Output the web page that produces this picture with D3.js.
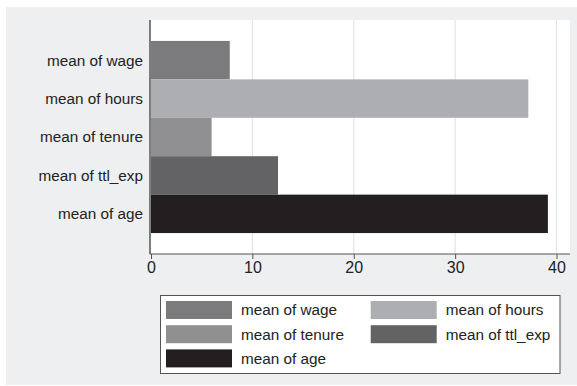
<!DOCTYPE html>
<html>
<head>
<meta charset="utf-8">
<script src="https://cdn.jsdelivr.net/npm/d3@7"></script>
<style>
  body { margin: 0; background: #fff; }
</style>
</head>
<body>
<div id="chart"></div>
<script>

			var width = 577;
			var height = 386;

			// data (nlsw88 means)
			var categories = ['mean of wage', 'mean of hours', 'mean of tenure', 'mean of ttl_exp', 'mean of age'];
			var values = [7.77, 37.22, 5.98, 12.53, 39.15];
			var barColors = ['#7b7b7e', '#adaeb1', '#909093', '#636365', '#231f20'];
			var xTicks = [0, 10, 20, 30, 40];

			var plotLeft = 150;
			var plotRight = 570;
			var plotTop = 20;
			var plotBottom = 254;

			var fontFam = 'Liberation Sans, Arial, Helvetica, sans-serif';

			var svg = d3.select('#chart')
					.append('svg')
					.attr('width', width + 'px')
					.attr('height', height + 'px')
					.style('background-color', '#ffffff')

			// outer graph region
			svg.append('rect')
				.attr('x', 6)
				.attr('y', 7)
				.attr('width', width - 6)
				.attr('height', 378)
				.attr('fill', '#eeeff1')

			// plot region
			svg.append('rect')
				.attr('x', plotLeft)
				.attr('y', plotTop)
				.attr('width', plotRight - plotLeft)
				.attr('height', plotBottom - plotTop)
				.attr('fill', '#ffffff')

			var x = d3.scaleLinear()
				.domain([0, 40])
				.range([151, 556.5]);

			var y = d3.scaleBand()
				.domain(categories)
				.range([plotTop, plotBottom])
				.paddingInner(0)
				.paddingOuter(0.545);

			// gridlines
			svg.append('g')
				.selectAll('line')
				.data(xTicks.slice(1))
				.enter()
				.append('line')
				.attr('x1', function(d) { return x(d) })
				.attr('x2', function(d) { return x(d) })
				.attr('y1', plotTop)
				.attr('y2', plotBottom)
				.attr('stroke', '#e3e4e6')
				.attr('stroke-width', 1.2)

			// bars
			svg.selectAll('.bar')
				.data(values)
				.enter()
				.append('rect')
				.attr('class', 'bar')
				.attr('x', x(0))
				.attr('y', function(d, i) { return y(categories[i]) })
				.attr('width', function(d) { return x(d) - x(0) })
				.attr('height', y.bandwidth())
				.attr('fill', function(d, i) { return barColors[i] })

			// category labels
			svg.selectAll('.cat')
				.data(categories)
				.enter()
				.append('text')
				.attr('class', 'cat')
				.attr('x', 143)
				.attr('y', function(d) { return y(d) + y.bandwidth() / 2 })
				.attr('dy', '0.35em')
				.attr('text-anchor', 'end')
				.text(function(d) { return d })
				.style('fill', '#222')
				.style('font-family', fontFam)
				.style('font-size', '15.3px')

			// x axis
			var xAxis = d3.axisBottom(x)
				.tickValues(xTicks)
				.tickSize(5)
				.tickSizeOuter(0)
				.tickPadding(3);

			var xAxisGroup = svg.append('g')
				.attr('transform', 'translate(0,' + plotBottom + ')')
				.call(xAxis)

			xAxisGroup.select('.domain').remove()
			xAxisGroup.selectAll('line').attr('stroke', '#555')
			xAxisGroup.selectAll('text')
				.style('fill', '#222')
				.style('font-family', fontFam)
				.style('font-size', '16px')

			svg.append('line')
				.attr('x1', plotLeft)
				.attr('x2', plotRight)
				.attr('y1', plotBottom)
				.attr('y2', plotBottom)
				.attr('stroke', '#555')
				.attr('stroke-width', 1.2)

			svg.append('line')
				.attr('x1', plotLeft)
				.attr('x2', plotLeft)
				.attr('y1', plotTop)
				.attr('y2', plotBottom)
				.attr('stroke', '#555')
				.attr('stroke-width', 1.5)

			// legend
			var legend = svg.append('g')

			legend.append('rect')
				.attr('x', 160.5)
				.attr('y', 295.5)
				.attr('width', 399.5)
				.attr('height', 78)
				.attr('fill', '#ffffff')
				.attr('stroke', '#555')
				.attr('stroke-width', 1)

			var items = legend.selectAll('.item')
				.data(categories)
				.enter()
				.append('g')
				.attr('class', 'item')
				.attr('transform', function(d, i) {
					return 'translate(' + (166 + (i % 2) * 204.7) + ',' + (301 + Math.floor(i / 2) * 24.2) + ')'
				})

			items.append('rect')
				.attr('width', 66)
				.attr('height', 18)
				.attr('fill', function(d, i) { return barColors[i] })

			items.append('text')
				.attr('x', 75)
				.attr('y', 9)
				.attr('dy', '0.35em')
				.text(function(d) { return d })
				.style('fill', '#222')
				.style('font-family', fontFam)
				.style('font-size', '15.3px')

</script>
</body>
</html>
